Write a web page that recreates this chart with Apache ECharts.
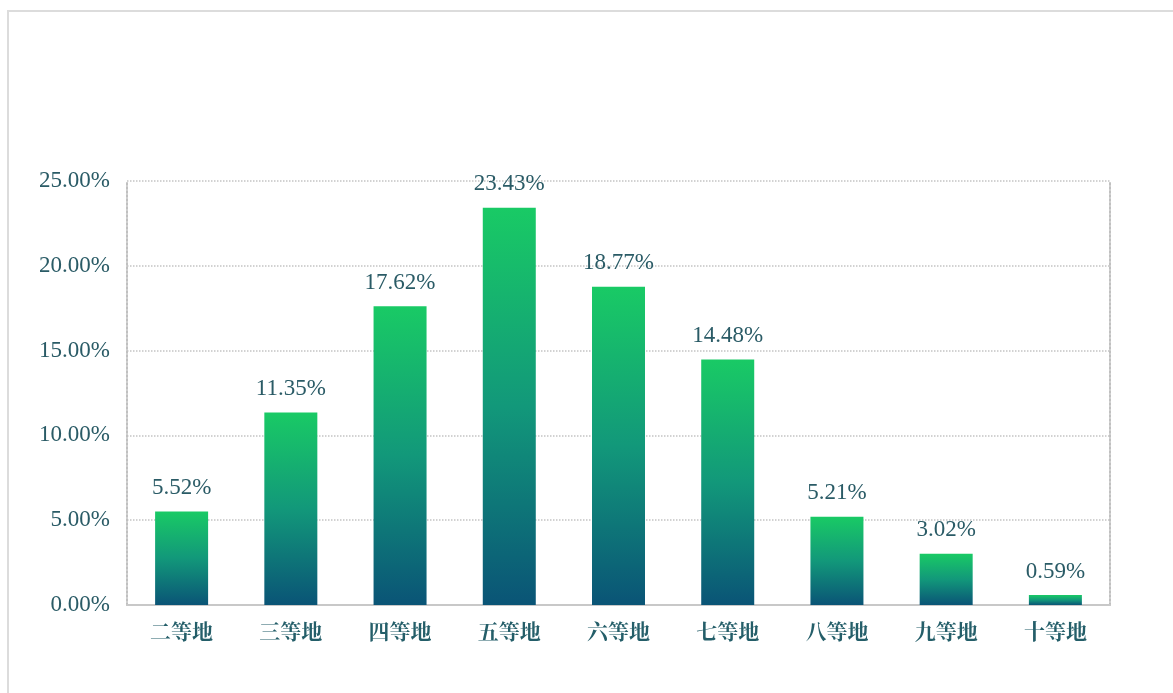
<!DOCTYPE html>
<html><head><meta charset="utf-8">
<script src="https://cdn.jsdelivr.net/npm/echarts@6/dist/echarts.min.js"></script>
<style>
html,body{margin:0;padding:0;background:#fff;}
#frame{position:absolute;left:7px;top:10px;width:1200px;height:720px;border:2px solid #dcdcdc;box-sizing:border-box;}
#c{position:absolute;left:0;top:0;width:1173px;height:693px;}
</style></head>
<body>
<div id="frame"></div>
<div id="c"></div>
<script>
const categories = ['二等地','三等地','四等地','五等地','六等地','七等地','八等地','九等地','十等地'];
const values = [5.52, 11.35, 17.62, 23.43, 18.77, 14.48, 5.21, 3.02, 0.59];
const yTicks = [0, 5, 10, 15, 20, 25];

const chart = echarts.init(document.getElementById('c'));
const textColor = '#2a5b66';
chart.setOption({
  animation: false,
  grid: {left: 127, right: 63, top: 181, bottom: 88},
  xAxis: {
    type: 'category', data: categories,
    axisLine: {lineStyle: {color: '#c8c8c8', width: 2}},
    axisTick: {show: false},
    axisLabel: {color: '#245e69', fontSize: 21, fontWeight: 'bold', margin: 16,
      fontFamily: '"Noto Serif CJK SC","Noto Sans CJK SC",serif'}
  },
  yAxis: [{
    type: 'value', min: yTicks[0], max: yTicks[yTicks.length-1], interval: 5,
    axisLine: {show: true, lineStyle: {color: '#c0c0c0', type: 'dotted', width: 2}},
    axisTick: {show: false},
    axisLabel: {color: textColor, fontSize: 23, margin: 17, fontFamily: '"Liberation Serif",serif',
      formatter: v => v.toFixed(2) + '%'},
    splitLine: {lineStyle: {color: '#c4c4c4', type: 'dotted', width: 1.5}}
  }, {
    type: 'value', min: yTicks[0], max: yTicks[yTicks.length-1], interval: 5, position: 'right',
    axisLine: {show: true, lineStyle: {color: '#c0c0c0', type: 'dotted', width: 2}},
    axisTick: {show: false}, axisLabel: {show: false}, splitLine: {show: false}
  }],
  series: [{
    type: 'bar', data: values, barWidth: 53,
    itemStyle: {color: new echarts.graphic.LinearGradient(0, 0, 0, 1, [
      {offset: 0, color: '#19ca65'}, {offset: 0.5, color: '#12987a'}, {offset: 1, color: '#0a5476'}])},
    label: {show: true, position: 'top', distance: 12, color: textColor, fontSize: 23,
      fontFamily: '"Liberation Serif",serif', formatter: p => p.value.toFixed(2) + '%'}
  }]
});
</script>
</body></html>
